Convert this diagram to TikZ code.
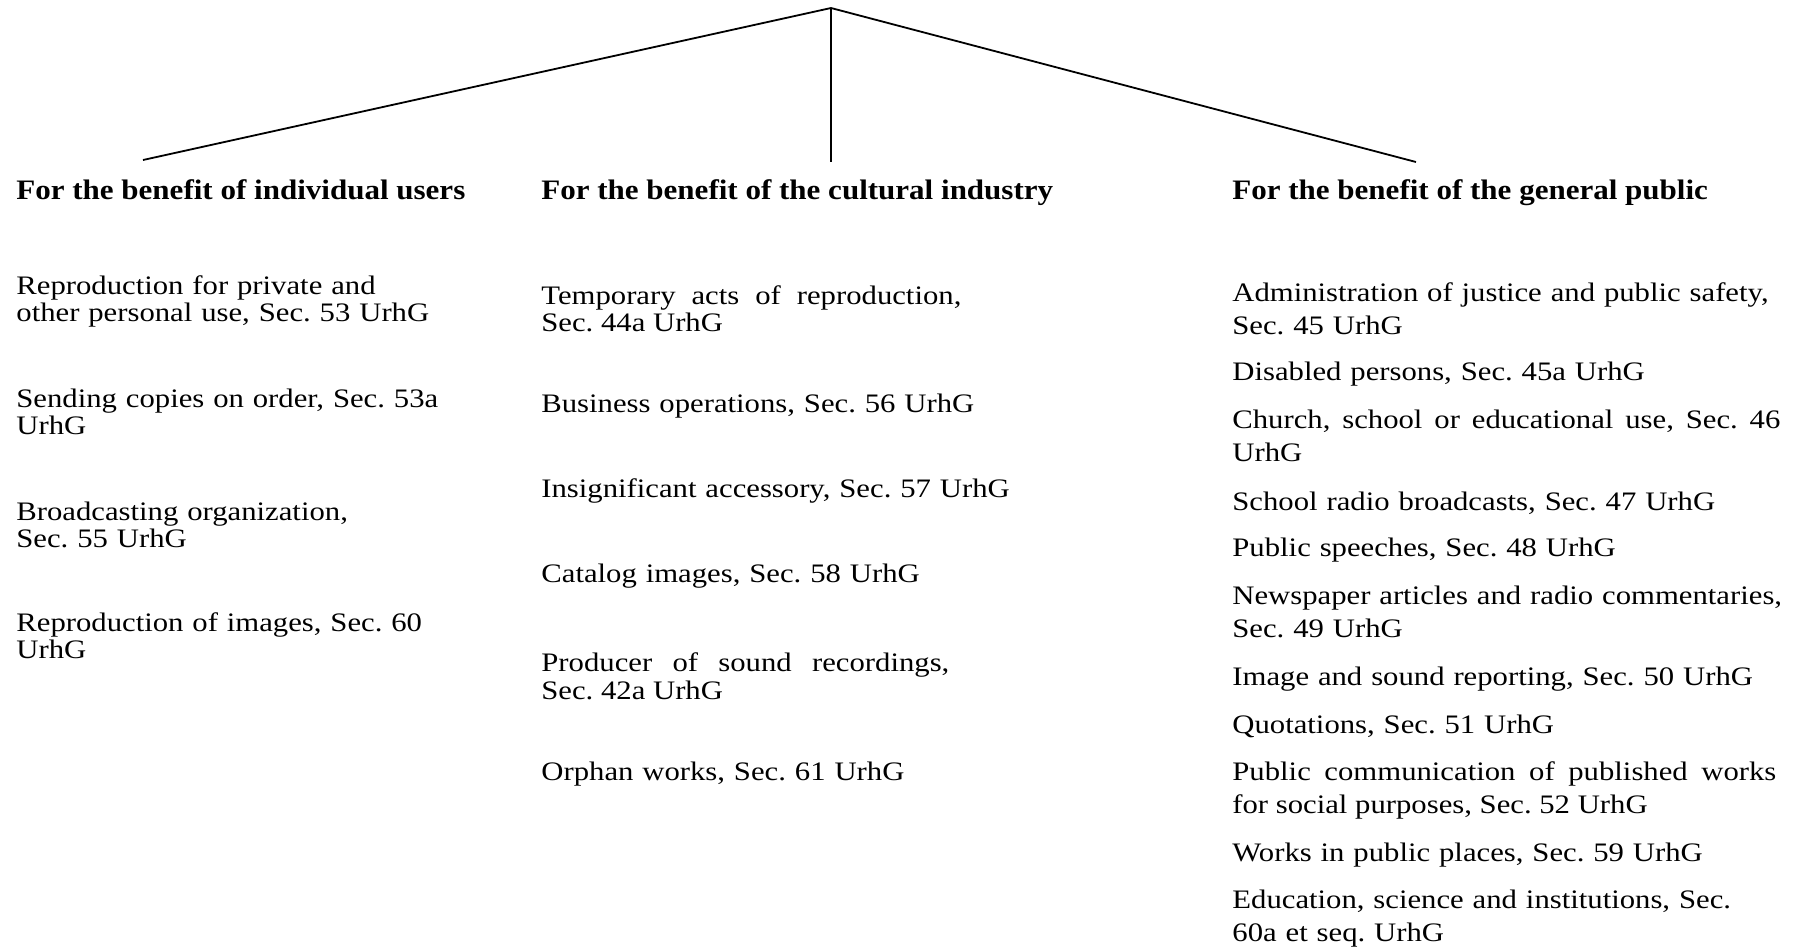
\documentclass[tikz,border=0pt]{standalone}
\usepackage{fontspec}
\setmainfont{Liberation Serif}
\newfontfamily\itemfont[FakeStretch=1.15]{Liberation Serif}
\newfontfamily\headfont[FakeStretch=1.1]{Liberation Serif}

\begin{document}
\frenchspacing
\begin{tikzpicture}[
    x=0.5pt,y=-0.5pt,
    head/.style={
      font=\headfont\bfseries\fontsize{14.1pt}{17pt}\selectfont,
      anchor=base west,
      inner sep=0pt
    },
    item/.style={
      font=\itemfont\fontsize{13.35pt}{13.75pt}\selectfont,
      align=left,
      text width=240pt,
      anchor=base west,
      inner sep=0pt
    },
    pub/.style={
      item,
      text width=290pt,
      font=\itemfont\fontsize{13.35pt}{16.5pt}\selectfont
    },
    just/.style={align=justify,text width=#1}
    ]
    \useasboundingbox (0,0) rectangle (1796,949);

    % the three branches
    \coordinate (root) at (831,8);
    \coordinate (lend) at (143,160);
    \coordinate (mend) at (831,162);
    \coordinate (rend) at (1416,162);
    \draw[line width=0.9pt] (root) -- (lend);
    \draw[line width=0.9pt] (root) -- (mend);
    \draw[line width=0.9pt] (root) -- (rend);

    \node[head] (hindiv) at (16,199) {For the benefit of individual users};
    \node[head] (hcult) at (541,199) {For the benefit of the cultural industry};
    \node[head] (hpub) at (1232,199) {For the benefit of the general public};

    % individual users
    \node[item] (sec53) at (16,294) {Reproduction for private and\\other personal use, Sec. 53 UrhG};
    \node[item] (sec53a) at (16,407) {Sending copies on order, Sec. 53a\\UrhG};
    \node[item] (sec55) at (16,520) {Broadcasting organization,\\Sec. 55 UrhG};
    \node[item] (sec60) at (16,631) {Reproduction of images, Sec. 60\\UrhG};

    % cultural industry
    \node[item,just=210pt] (sec44a) at (541,304) {Temporary acts of reproduction,\linebreak Sec. 44a UrhG};
    \node[item] (sec56) at (541,412.7) {Business operations, Sec. 56 UrhG};
    \node[item] (sec57) at (541,497.7) {Insignificant accessory, Sec. 57 UrhG};
    \node[item] (sec58) at (541,582.7) {Catalog images, Sec. 58 UrhG};
    \node[item,just=204pt] (sec42a) at (541,671.5) {Producer of sound recordings,\linebreak Sec. 42a UrhG};
    \node[item] (sec61) at (541,780) {Orphan works, Sec. 61 UrhG};

    % general public
    \node[pub] (sec45) at (1232,301) {Administration of justice and public safety,\\Sec. 45 UrhG};
    \node[pub] (sec45a) at (1232,380.7) {Disabled persons, Sec. 45a UrhG};
    \node[pub,just=274pt] (sec46) at (1232,428.3) {Church, school or educational use, Sec. 46\linebreak UrhG};
    \node[pub] (sec47) at (1232,510) {School radio broadcasts, Sec. 47 UrhG};
    \node[pub] (sec48) at (1232,556.7) {Public speeches, Sec. 48 UrhG};
    \node[pub] (sec49) at (1232,604) {Newspaper articles and radio commentaries,\\Sec. 49 UrhG};
    \node[pub] (sec50) at (1232,685) {Image and sound reporting, Sec. 50 UrhG};
    \node[pub] (sec51) at (1232,733.3) {Quotations, Sec. 51 UrhG};
    \node[pub,just=272pt] (sec52) at (1232,780) {Public communication of published works\linebreak for social purposes, Sec. 52 UrhG};
    \node[pub] (sec59) at (1232,861) {Works in public places, Sec. 59 UrhG};
    \node[pub] (sec60a) at (1232,908) {Education, science and institutions, Sec.\\60a et seq. UrhG};
\end{tikzpicture}
\end{document}
